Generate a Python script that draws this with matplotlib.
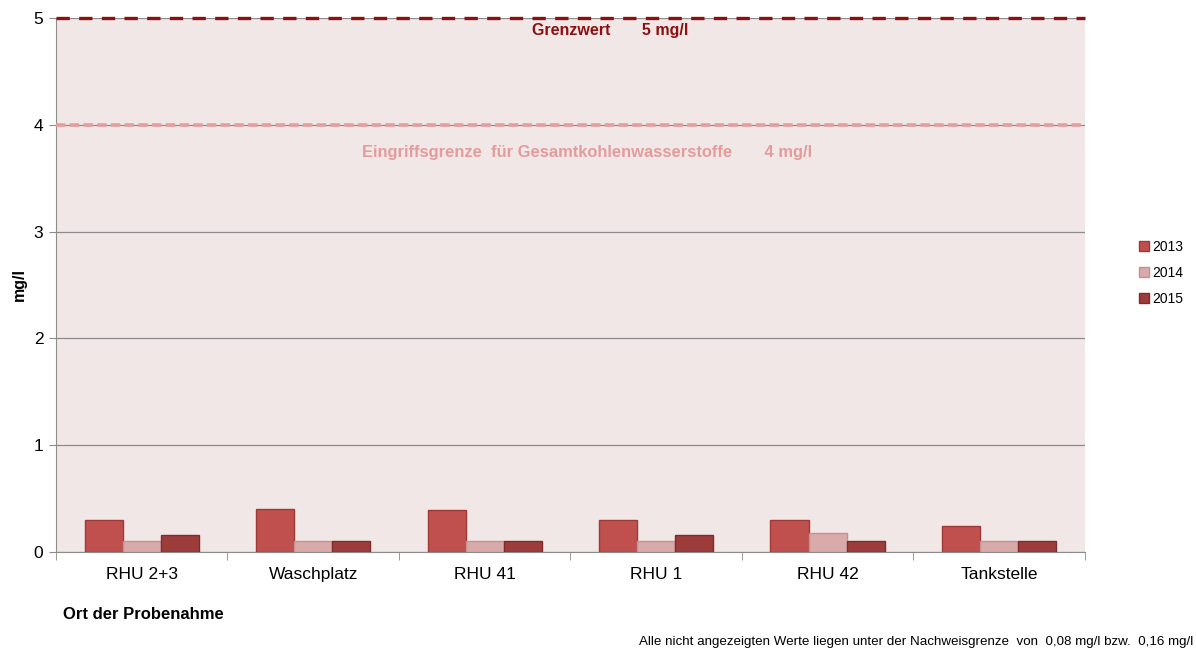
import matplotlib.pyplot as plt
import numpy as np

plt.rcParams['font.family'] = ['Liberation Sans', 'DejaVu Sans']

# Data
orte = ['RHU 2+3', 'Waschplatz', 'RHU 41', 'RHU 1', 'RHU 42', 'Tankstelle']
jahre = ['2013', '2014', '2015']
werte_2013 = [0.30, 0.40, 0.39, 0.30, 0.30, 0.24]
werte_2014 = [0.10, 0.10, 0.10, 0.10, 0.18, 0.10]
werte_2015 = [0.16, 0.10, 0.10, 0.16, 0.10, 0.10]
grenzwert = 5
eingriffsgrenze = 4

farben = ['#C0504D', '#D9AAAA', '#9C3D3B']
kanten = ['#A03836', '#C98F8F', '#7F2B2A']

fig = plt.figure(figsize=(11.96, 6.5), dpi=100)
ax = fig.add_axes([0.0468, 0.1508, 0.8602, 0.8215])
ax.set_facecolor('#F2E7E7')

x = np.arange(len(orte))
bw = 0.222
serien = [werte_2013, werte_2014, werte_2015]
handles = []
for i, (werte, jahr) in enumerate(zip(serien, jahre)):
    b = ax.bar(x + (i - 1) * bw, werte, bw, color=farben[i], edgecolor=kanten[i],
               linewidth=1, label=jahr, zorder=3)
    handles.append(b)

# Grid lines
ax.set_ylim(0, 5)
ax.set_xlim(-0.5, len(orte) - 0.5)
ax.set_yticks([0, 1, 2, 3, 4, 5])
ax.yaxis.grid(True, color='#8C8C8C', linewidth=0.9, zorder=1)
ax.set_axisbelow(True)

# Threshold lines
ax.axhline(grenzwert, color='#8B1010', linewidth=2.4, dashes=(4.0, 2.8), zorder=4, clip_on=False)
ax.axhline(eingriffsgrenze, color='#E59D9D', linewidth=2.6, dashes=(2.6, 1.2), zorder=4)
ax.text(2.73, 4.88, 'Grenzwert       5 mg/l', color='#8B1010', fontsize=11.5,
        fontweight='bold', ha='center', va='center')
ax.text(2.6, 3.745, 'Eingriffsgrenze  für Gesamtkohlenwasserstoffe       4 mg/l',
        color='#E39C9C', fontsize=11.9, fontweight='bold', ha='center', va='center')

# Axes styling
for s in ['top', 'right']:
    ax.spines[s].set_visible(False)
ax.spines['left'].set_color('#8C8C8C')
ax.spines['bottom'].set_color('#8C8C8C')
ax.set_xticks(np.arange(len(orte) + 1) - 0.5, minor=True)
ax.set_xticks(x)
ax.set_xticklabels(orte, fontsize=12.5)
ax.tick_params(axis='x', which='major', length=0, pad=11)
ax.tick_params(axis='x', which='minor', length=6, color='#8C8C8C')
ax.tick_params(axis='y', length=5, color='#8C8C8C', labelsize=12.5, pad=4)

ax.set_ylabel('mg/l', fontsize=11.5, fontweight='bold', labelpad=5)
fig.text(0.053, 0.055, 'Ort der Probenahme', fontsize=12, fontweight='bold', va='center')
fig.text(0.998, 0.003,
         'Alle nicht angezeigten Werte liegen unter der Nachweisgrenze  von  0,08 mg/l bzw.  0,16 mg/l',
         fontsize=9.6, ha='right', va='bottom')

fig.legend(handles=handles, loc='center left', bbox_to_anchor=(0.948, 0.58),
           frameon=False, fontsize=10, handlelength=0.7, handleheight=0.7,
           handletextpad=0.2, labelspacing=0.85, borderaxespad=0)

fig.savefig('out.png', dpi=100)
